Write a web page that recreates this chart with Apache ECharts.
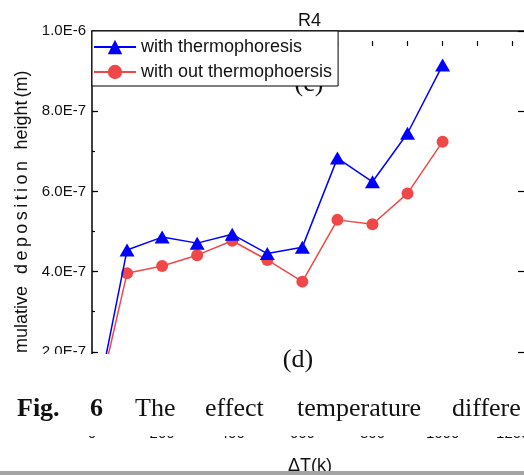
<!DOCTYPE html>
<html>
<head>
<meta charset="utf-8">
<script src="https://cdn.jsdelivr.net/npm/echarts@6/dist/echarts.min.js"></script>
<style>
html,body{margin:0;padding:0;background:#fff;}
#chart{width:524px;height:475px;}
</style>
</head>
<body>
<div id="chart"></div>
<script>
// Data
const deltaT = [0, 100, 200, 300, 400, 500, 600, 700, 800, 900, 1000];
const withThermo = [1.5e-8, 4.54e-7, 4.86e-7, 4.71e-7, 4.93e-7, 4.45e-7, 4.61e-7, 6.83e-7, 6.24e-7, 7.45e-7, 9.15e-7];
const withoutThermo = [1.5e-8, 3.96e-7, 4.14e-7, 4.41e-7, 4.77e-7, 4.29e-7, 3.75e-7, 5.29e-7, 5.18e-7, 5.95e-7, 7.24e-7];
const seriesNames = ['with thermophoresis', 'with out thermophoersis'];
const captionWords = ['Fig.', '6', 'The', 'effect', 'temperature', 'differe'];

function sci(v) {
  if (v === 0) return '0.0';
  const e = Math.floor(Math.log10(v) + 1e-9);
  const m = (v / Math.pow(10, e)).toFixed(1);
  return m + 'E' + e;
}

const FONT = 'Liberation Sans, Arial, sans-serif';
const SERIF = 'Liberation Serif, Times New Roman, serif';
const XMAX = 1235, YMAX = 1e-6;
const G = {left: 92, top: 31, width: 433, height: 401};

// letter-spaced vertical word helper (measures glyphs)
const mctx = document.createElement('canvas').getContext('2d');
function spacedVertical(word, x, yBottom, yTop, font) {
  mctx.font = font;
  const widths = [...word].map(c => mctx.measureText(c).width);
  const total = widths.reduce((a, b) => a + b, 0);
  const gap = (yBottom - yTop - total) / (word.length - 1);
  const els = [];
  let pos = yBottom;
  [...word].forEach((c, i) => {
    els.push({type: 'text', z: 5, x: x, y: pos, rotation: Math.PI / 2,
      style: {text: c, font: font, fill: '#111', textAlign: 'left', textVerticalAlign: 'middle'}});
    pos -= widths[i] + gap;
  });
  return els;
}

const chart = echarts.init(document.getElementById('chart'), null, {renderer: 'canvas'});
const axisLine = {show: true, lineStyle: {color: '#000', width: 1.5}};
const tickOut = (len) => ({show: true, length: len, lineStyle: {color: '#000', width: 1.2}});
const noLabel = {show: false};
const noSplit = {show: false};
const hiddenX = (gi) => ({type: 'value', gridIndex: gi, show: false, min: 0, max: XMAX});
const hiddenY = (gi) => ({type: 'value', gridIndex: gi, show: false, min: 0, max: YMAX});
const gb = (o) => Object.assign({containLabel: false, outerBoundsMode: 'none'}, o);

// helper grids, inset from the main plot, carry outward ticks that land inside the frame
const grids = [
  gb({left: G.left, top: G.top, width: G.width, height: G.height}),          // 0 main
  gb({left: G.left + 6, top: G.top, width: 10, height: G.height}),           // 1 left major ticks
  gb({left: G.left + 3, top: G.top, width: 10, height: G.height}),           // 2 left minor ticks
  gb({left: G.left + G.width - 7, top: G.top, width: 1, height: G.height}),  // 3 right ticks
  gb({left: G.left, top: G.top + 5, width: G.width, height: 10})             // 4 top ticks
];

const option = {
  animation: false,
  backgroundColor: '#fff',
  title: {
    text: 'R4', left: 298, top: 12, padding: 0,
    textStyle: {fontFamily: FONT, fontSize: 18, fontWeight: 'normal', color: '#111'}
  },
  grid: grids,
  legend: {
    left: 92, top: 31, orient: 'vertical',
    padding: [5, 6, 3, 1], itemGap: 3, itemWidth: 42, itemHeight: 18,
    borderColor: '#000', borderWidth: 1, backgroundColor: '#fff',
    z: 20,
    textStyle: {fontFamily: FONT, fontSize: 18, color: '#111', lineHeight: 22},
    data: seriesNames
  },
  xAxis: [
    {
      type: 'value', gridIndex: 0, position: 'bottom', min: 0, max: XMAX, interval: 200,
      axisLine: axisLine, axisTick: {show: false},
      axisLabel: {
        show: true, margin: -6, fontFamily: FONT, fontSize: 15, color: '#111',
        formatter: v => (v <= 1200 ? String(v) : '')
      },
      splitLine: noSplit
    },
    {
      type: 'value', gridIndex: 0, position: 'top', min: 0, max: XMAX, interval: 100,
      axisLine: axisLine, axisTick: {show: false}, axisLabel: noLabel, splitLine: noSplit
    },
    hiddenX(1), hiddenX(2), hiddenX(3),
    {
      type: 'value', gridIndex: 4, position: 'top', min: 0, max: XMAX, interval: 100,
      axisLine: {show: false}, axisTick: tickOut(5), axisLabel: noLabel, splitLine: noSplit
    }
  ],
  yAxis: [
    {
      type: 'value', gridIndex: 0, position: 'left', min: 0, max: YMAX, interval: 2e-7,
      axisLine: axisLine, axisTick: {show: false},
      axisLabel: {show: true, margin: 6, fontFamily: FONT, fontSize: 15, color: '#111', formatter: sci},
      splitLine: noSplit
    },
    {
      type: 'value', gridIndex: 1, position: 'left', min: 0, max: YMAX, interval: 2e-7,
      axisLine: {show: false}, axisTick: tickOut(6), axisLabel: noLabel, splitLine: noSplit
    },
    {
      type: 'value', gridIndex: 2, position: 'left', min: 0, max: YMAX, interval: 1e-7,
      axisLine: {show: false}, axisTick: tickOut(3), axisLabel: noLabel, splitLine: noSplit
    },
    {
      type: 'value', gridIndex: 3, position: 'right', min: 0, max: YMAX, interval: 2e-7,
      axisLine: {show: false}, axisTick: tickOut(6), axisLabel: noLabel, splitLine: noSplit
    },
    hiddenY(4)
  ],
  series: [
    {
      name: seriesNames[0], type: 'line', xAxisIndex: 0, yAxisIndex: 0,
      data: deltaT.map((x, i) => [x, withThermo[i]]),
      symbol: 'triangle', symbolSize: [15, 13],
      lineStyle: {color: '#0000ff', width: 1.5},
      itemStyle: {color: '#0000ff'},
      z: 3
    },
    {
      name: seriesNames[1], type: 'line', xAxisIndex: 0, yAxisIndex: 0,
      data: deltaT.map((x, i) => [x, withoutThermo[i]]),
      symbol: 'circle', symbolSize: 12,
      lineStyle: {color: '#f04848', width: 1.5},
      itemStyle: {color: '#f04848'},
      z: 2
    }
  ],
  graphic: [
    // y-axis name (words)
    {type: 'text', z: 5, x: 22, y: 286, rotation: Math.PI / 2,
     style: {text: 'Cumulative', font: '18px ' + FONT, fill: '#111', textAlign: 'right', textVerticalAlign: 'middle'}},
    ...spacedVertical('deposition', 22, 274, 161, '18px ' + FONT),
    {type: 'text', z: 5, x: 22, y: 125, rotation: Math.PI / 2,
     style: {text: 'height', font: '18px ' + FONT, fill: '#111', textAlign: 'center', textVerticalAlign: 'middle'}},
    {type: 'text', z: 5, x: 22, y: 84, rotation: Math.PI / 2,
     style: {text: '(m)', font: '18px ' + FONT, fill: '#111', textAlign: 'center', textVerticalAlign: 'middle'}},
    // (c) label behind legend
    {type: 'text', z: 1, x: 309, y: 84,
     style: {text: '(c)', font: '26px ' + SERIF, fill: '#111', textAlign: 'center', textVerticalAlign: 'middle'}},
    // white overlay band
    {type: 'rect', z: 100, shape: {x: 0, y: 354, width: 524, height: 82}, style: {fill: '#fff'}},
    {type: 'text', z: 101, x: 298, y: 360,
     style: {text: '(d)', font: '26px ' + SERIF, fill: '#111', textAlign: 'center', textVerticalAlign: 'middle'}},
    {type: 'text', z: 101, x: 17, y: 409,
     style: {text: captionWords[0], font: 'bold 26px ' + SERIF, fill: '#111', textVerticalAlign: 'middle'}},
    {type: 'text', z: 101, x: 90, y: 409,
     style: {text: captionWords[1], font: 'bold 26px ' + SERIF, fill: '#111', textVerticalAlign: 'middle'}},
    {type: 'text', z: 101, x: 135, y: 409,
     style: {text: captionWords[2], font: '26px ' + SERIF, fill: '#111', textVerticalAlign: 'middle'}},
    {type: 'text', z: 101, x: 205, y: 409,
     style: {text: captionWords[3], font: '26px ' + SERIF, fill: '#111', textVerticalAlign: 'middle'}},
    {type: 'text', z: 101, x: 297, y: 409,
     style: {text: captionWords[4], font: '26px ' + SERIF, fill: '#111', textVerticalAlign: 'middle'}},
    {type: 'text', z: 101, x: 452, y: 409,
     style: {text: captionWords[5], font: '26px ' + SERIF, fill: '#111', textVerticalAlign: 'middle'}},
    // x-axis name
    {type: 'text', z: 5, x: 310, y: 466,
     style: {text: 'ΔT(k)', font: '18px ' + FONT, fill: '#111', textAlign: 'center', textVerticalAlign: 'middle'}},
    // gray rule at bottom
    {type: 'rect', z: 102, shape: {x: 0, y: 471, width: 524, height: 4}, style: {fill: '#a4a4a4'}}
  ]
};
chart.setOption(option);
</script>
</body>
</html>
